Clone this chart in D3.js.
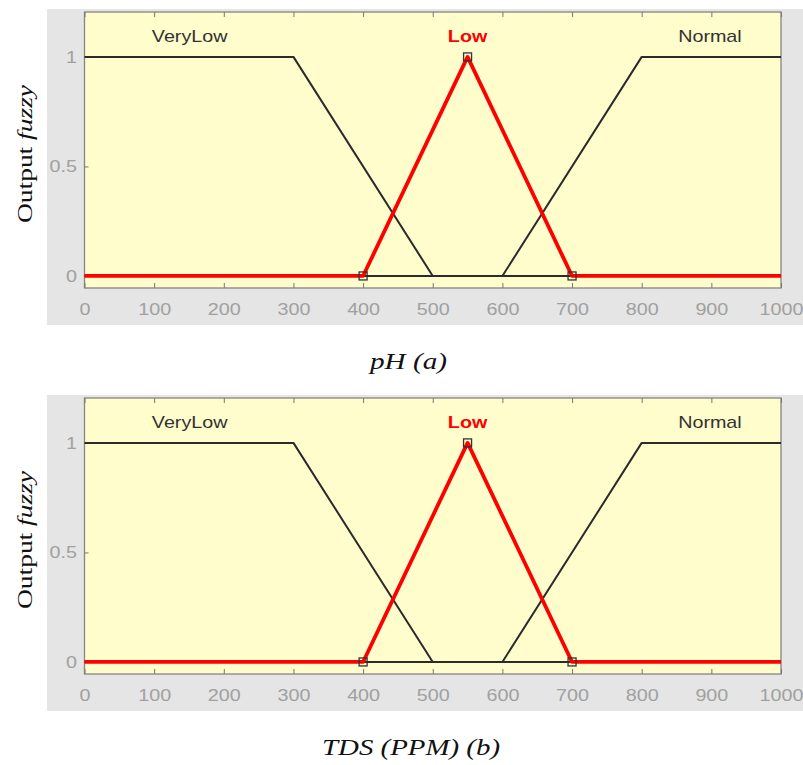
<!DOCTYPE html>
<html>
<head>
<meta charset="utf-8">
<script src="https://cdn.jsdelivr.net/npm/d3@7"></script>
<style>
  html, body { margin: 0; padding: 0; background: #ffffff; }
  svg { display: block; }
</style>
</head>
<body>
<svg id="chart" width="803" height="765"></svg>
<script>
// Membership functions over the 0–1000 input range
const xTicks = [0, 100, 200, 300, 400, 500, 600, 700, 800, 900, 1000];
const yTicks = [0, 0.5, 1];
const mfNames = ["VeryLow", "Low", "Normal"];
const mfLabelX = [151, 550, 898];
const veryLowX = [0, 300, 500, 1000];
const veryLowY = [1, 1, 0, 0];
const lowX = [0, 400, 550, 700, 1000];
const lowY = [0, 0, 1, 0, 0];
const normalX = [0, 600, 800, 1000];
const normalY = [0, 0, 1, 1];
const lowVertexX = [400, 550, 700];
const lowVertexY = [0, 1, 0];
const captions = ["pH (a)", "TDS (PPM) (b)"];

const SANS = "'Liberation Sans', Arial, sans-serif";
const SERIF = "'Liberation Serif', 'Times New Roman', serif";
const WIDEN = 1.16; // the figure's text is set slightly wide

const svg = d3.select("#chart");

function zipPts(xs, ys) { return xs.map((x, i) => [x, ys[i]]); }

function widen(sel, factor) {
  sel.each(function () {
    const len = this.getComputedTextLength();
    d3.select(this).attr("textLength", len * factor).attr("lengthAdjust", "spacingAndGlyphs");
  });
}

function drawPanel(top, caption, captionX, captionWidth) {
  const g = svg.append("g").attr("transform", `translate(0,${top})`);
  const left = 84.5, right = 781, plotTop = 3, plotBottom = 279;

  // grey figure background
  g.append("rect").attr("x", 47).attr("y", 0).attr("width", 760).attr("height", 316)
    .attr("fill", "#e5e5e5");

  const x = d3.scaleLinear().domain([0, 1000]).range([left, right]);
  const y = d3.scaleLinear().domain([-0.055, 1.205]).range([plotBottom, plotTop]);

  // plot area
  g.append("rect").attr("x", left).attr("y", plotTop)
    .attr("width", right - left).attr("height", plotBottom - plotTop)
    .attr("fill", "#fefdcb").attr("stroke", "#858585").attr("stroke-width", 1.3);

  // x axis (bottom), inward ticks
  const xAxis = d3.axisBottom(x).tickValues(xTicks).tickSize(-5).tickPadding(14.5)
    .tickFormat(d3.format("d"));
  const gx = g.append("g").attr("transform", `translate(0,${plotBottom})`).call(xAxis);
  gx.select(".domain").remove();
  gx.selectAll(".tick line").attr("stroke", "#777");
  gx.selectAll(".tick text").attr("fill", "#a0a0a0")
    .attr("font-family", SANS).attr("font-size", 17).call(widen, WIDEN);

  // top ticks
  const gxt = g.append("g").attr("transform", `translate(0,${plotTop})`)
    .call(d3.axisTop(x).tickValues(xTicks).tickSize(-5).tickFormat(""));
  gxt.select(".domain").remove();
  gxt.selectAll(".tick line").attr("stroke", "#777");

  // y axis
  const yAxis = d3.axisLeft(y).tickValues(yTicks).tickSize(-4).tickPadding(7.5)
    .tickFormat(d => d === 0.5 ? "0.5" : d3.format("d")(d));
  const gy = g.append("g").attr("transform", `translate(${left},0)`).call(yAxis);
  gy.select(".domain").remove();
  gy.selectAll(".tick line").attr("stroke", "#777");
  gy.selectAll(".tick text").attr("fill", "#a0a0a0")
    .attr("font-family", SANS).attr("font-size", 17).call(widen, WIDEN);

  const line = d3.line().x(d => x(d[0])).y(d => y(d[1]));

  // black membership functions
  [zipPts(veryLowX, veryLowY), zipPts(normalX, normalY)].forEach(pts => {
    g.append("path").attr("d", line(pts)).attr("fill", "none")
      .attr("stroke", "#2b2b2b").attr("stroke-width", 2).attr("stroke-linejoin", "round");
  });

  // highlighted membership function
  g.append("path").attr("d", line(zipPts(lowX, lowY))).attr("fill", "none")
    .attr("stroke", "#ff0000").attr("stroke-width", 3.8).attr("stroke-linejoin", "round");

  // vertex markers
  g.selectAll("rect.vertex").data(zipPts(lowVertexX, lowVertexY)).enter()
    .append("rect").attr("class", "vertex")
    .attr("x", d => x(d[0]) - 4).attr("y", d => y(d[1]) - 4)
    .attr("width", 8).attr("height", 8)
    .attr("fill", "none").attr("stroke", "#333").attr("stroke-width", 1.3);

  // membership function names
  mfNames.forEach((name, i) => {
    g.append("text").attr("x", x(mfLabelX[i])).attr("y", 33)
      .attr("text-anchor", "middle")
      .attr("font-family", SANS).attr("font-size", 17)
      .attr("font-weight", name === "Low" ? "bold" : "normal")
      .attr("fill", name === "Low" ? "#ff0000" : "#333")
      .text(name)
      .call(widen, WIDEN);
  });

  // y axis title
  const yt = g.append("text")
    .attr("transform", `translate(32,${145}) rotate(-90)`)
    .attr("text-anchor", "middle")
    .attr("font-family", SERIF).attr("font-size", 22)
    .attr("fill", "#111")
    .attr("textLength", 138).attr("lengthAdjust", "spacingAndGlyphs");
  yt.append("tspan").text("Output ");
  yt.append("tspan").attr("font-style", "italic").text("fuzzy");

  // caption
  svg.append("text").attr("x", captionX).attr("y", top + 360)
    .attr("text-anchor", "middle")
    .attr("font-family", SERIF)
    .attr("font-style", "italic").attr("font-size", 23).attr("fill", "#111")
    .attr("textLength", captionWidth).attr("lengthAdjust", "spacingAndGlyphs")
    .text(caption);
}

drawPanel(9, captions[0], 408.5, 77);
drawPanel(395, captions[1], 411, 178);
</script>
</body>
</html>
